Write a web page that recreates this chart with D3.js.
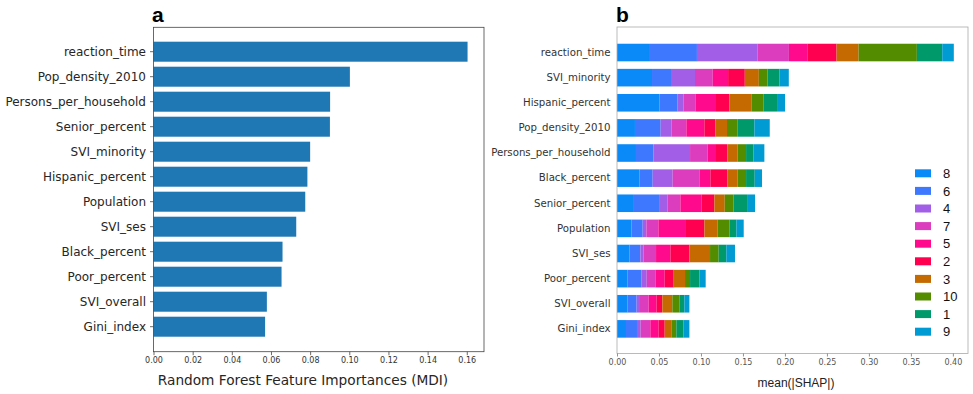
<!DOCTYPE html>
<html>
<head>
<meta charset="utf-8">
<script src="https://cdn.jsdelivr.net/npm/d3@7"></script>
<style>
  html, body { margin: 0; padding: 0; background: #fff; }
  svg { display: block; }
</style>
</head>
<body>
<svg id="chart" width="973" height="394"></svg>
<script>
// ---- Panel a: random forest impurity-based importances ----
const rfFeatures = ["reaction_time", "Pop_density_2010", "Persons_per_household", "Senior_percent",
  "SVI_minority", "Hispanic_percent", "Population", "SVI_ses", "Black_percent", "Poor_percent",
  "SVI_overall", "Gini_index"];
const rfImportance = [0.1604, 0.1003, 0.0902, 0.0901, 0.0800, 0.0786, 0.0775, 0.0729, 0.0659, 0.0654,
  0.0579, 0.0570];
const rfTicks = [0, 0.02, 0.04, 0.06, 0.08, 0.10, 0.12, 0.14, 0.16];

// ---- Panel b: mean |SHAP| per feature, split by class ----
const shapFeatures = ["reaction_time", "SVI_minority", "Hispanic_percent", "Pop_density_2010",
  "Persons_per_household", "Black_percent", "Senior_percent", "Population", "SVI_ses", "Poor_percent",
  "SVI_overall", "Gini_index"];
const classOrder = ["8", "6", "4", "7", "5", "2", "3", "10", "1", "9"];
const classColors = ["#0a8af8", "#3e78ff", "#a25ee6", "#dc3cbe", "#ff0a8c", "#ff0050", "#c46a00",
  "#548c00", "#00996a", "#009bd2"];
const shapClass8  = [0.0381, 0.0417, 0.0504, 0.0214, 0.0226, 0.0266, 0.0191, 0.0171, 0.0147, 0.0123, 0.0123, 0.0107];
const shapClass6  = [0.0571, 0.0226, 0.0218, 0.0306, 0.0207, 0.0159, 0.0310, 0.0135, 0.0131, 0.0167, 0.0111, 0.0131];
const shapClass4  = [0.0719, 0.0286, 0.0068, 0.0131, 0.0437, 0.0238, 0.0103, 0.0044, 0.0036, 0.0064, 0.0040, 0.0044];
const shapClass7  = [0.0376, 0.0211, 0.0143, 0.0175, 0.0207, 0.0318, 0.0151, 0.0143, 0.0151, 0.0103, 0.0103, 0.0115];
const shapClass5  = [0.0219, 0.0183, 0.0246, 0.0214, 0.0091, 0.0131, 0.0254, 0.0318, 0.0171, 0.0111, 0.0095, 0.0099];
const shapClass2  = [0.0349, 0.0199, 0.0159, 0.0131, 0.0147, 0.0203, 0.0151, 0.0230, 0.0226, 0.0107, 0.0068, 0.0072];
const shapClass3  = [0.0262, 0.0167, 0.0262, 0.0139, 0.0119, 0.0119, 0.0123, 0.0155, 0.0246, 0.0135, 0.0119, 0.0079];
const shapClass10 = [0.0694, 0.0103, 0.0147, 0.0123, 0.0103, 0.0103, 0.0103, 0.0143, 0.0103, 0.0060, 0.0087, 0.0060];
const shapClass1  = [0.0302, 0.0143, 0.0159, 0.0203, 0.0087, 0.0103, 0.0163, 0.0083, 0.0091, 0.0111, 0.0056, 0.0083];
const shapClass9  = [0.0138, 0.0111, 0.0095, 0.0183, 0.0131, 0.0087, 0.0095, 0.0087, 0.0103, 0.0075, 0.0060, 0.0072];
const shapTicks = [0, 0.05, 0.10, 0.15, 0.20, 0.25, 0.30, 0.35, 0.40];

const shapSeries = [shapClass8, shapClass6, shapClass4, shapClass7, shapClass5, shapClass2,
  shapClass3, shapClass10, shapClass1, shapClass9];

const svg = d3.select("#chart");
const DEJAVU = "'DejaVu Sans', sans-serif";
const ARIAL = "'Liberation Sans', Arial, sans-serif";

// =============== Panel a ===============
{
  const L = 153.5, R = 484, T = 27.3, B = 351.7;
  const x = d3.scaleLinear().domain([0, 0.1688]).range([L, R]);
  const y = d3.scaleBand().domain(rfFeatures).range([36.7, 341.7]).paddingInner(0.2).paddingOuter(0.2);

  const g = svg.append("g");
  g.selectAll("rect.bar").data(rfFeatures).join("rect")
    .attr("class", "bar")
    .attr("x", x(0))
    .attr("y", d => y(d))
    .attr("width", (d, i) => x(rfImportance[i]) - x(0))
    .attr("height", y.bandwidth())
    .attr("fill", "#1f77b4");

  // frame
  g.append("rect").attr("x", L).attr("y", T).attr("width", R - L).attr("height", B - T)
    .attr("fill", "none").attr("stroke", "#444").attr("stroke-width", 0.8);

  const xAxis = d3.axisBottom(x).tickValues(rfTicks).tickFormat(d3.format(".2f")).tickSize(3.5).tickPadding(2.5);
  const xa = g.append("g").attr("transform", `translate(0,${B})`).call(xAxis);
  xa.select(".domain").remove();
  xa.selectAll("line").attr("stroke", "#444").attr("stroke-width", 0.8);
  xa.selectAll("text").attr("font-family", DEJAVU).attr("font-size", 8).attr("fill", "#333");

  const yAxis = d3.axisLeft(y).tickSize(3.5).tickPadding(4);
  const ya = g.append("g").attr("transform", `translate(${L},0)`).call(yAxis);
  ya.select(".domain").remove();
  ya.selectAll("line").attr("stroke", "#444").attr("stroke-width", 0.8);
  ya.selectAll("text").attr("font-family", DEJAVU).attr("font-size", 12).attr("fill", "#262626");

  g.append("text").attr("x", 303).attr("y", 385).attr("text-anchor", "middle")
    .attr("font-family", DEJAVU).attr("font-size", 13.7).attr("fill", "#262626")
    .text("Random Forest Feature Importances (MDI)");

  g.append("text").attr("x", 152).attr("y", 22).attr("font-family", ARIAL)
    .attr("font-weight", "bold").attr("font-size", 21).attr("fill", "#000").text("a");
}

// =============== Panel b ===============
{
  const L = 617, R = 968, T = 27, B = 353.5;
  const x = d3.scaleLinear().domain([0, 0.418]).range([L, R]);
  const y = d3.scaleBand().domain(shapFeatures).range([36.2, 345.2]).paddingInner(0.3).paddingOuter(0.3);

  const rows = shapFeatures.map((f, i) => {
    const row = { feature: f };
    classOrder.forEach((c, k) => { row[c] = shapSeries[k][i]; });
    return row;
  });
  const stacked = d3.stack().keys(classOrder)(rows);
  const color = d3.scaleOrdinal().domain(classOrder).range(classColors);

  const g = svg.append("g");
  g.selectAll("g.layer").data(stacked).join("g")
    .attr("class", "layer")
    .attr("fill", d => color(d.key))
    .selectAll("rect").data(d => d).join("rect")
    .attr("x", d => x(d[0]))
    .attr("y", d => y(d.data.feature))
    .attr("width", d => x(d[1]) - x(d[0]))
    .attr("height", y.bandwidth());

  // frame
  g.append("rect").attr("x", L).attr("y", T).attr("width", R - L).attr("height", B - T)
    .attr("fill", "none").attr("stroke", "#aaa").attr("stroke-width", 0.8);

  const xAxis = d3.axisBottom(x).tickValues(shapTicks).tickFormat(d3.format(".2f")).tickSize(3).tickPadding(3);
  const xa = g.append("g").attr("transform", `translate(0,${B})`).call(xAxis);
  xa.select(".domain").remove();
  xa.selectAll("line").attr("stroke", "#777").attr("stroke-width", 0.8);
  xa.selectAll("text").attr("font-family", DEJAVU).attr("font-size", 8).attr("fill", "#555");

  const yAxis = d3.axisLeft(y).tickSize(0).tickPadding(6.5);
  const ya = g.append("g").attr("transform", `translate(${L},0)`).call(yAxis);
  ya.select(".domain").remove();
  ya.selectAll("text").attr("font-family", DEJAVU).attr("font-size", 10.2).attr("fill", "#333");

  g.append("text").attr("x", 796).attr("y", 387).attr("text-anchor", "middle")
    .attr("font-family", ARIAL).attr("font-size", 12).attr("fill", "#222")
    .text("mean(|SHAP|)");

  g.append("text").attr("x", 616).attr("y", 22).attr("font-family", ARIAL)
    .attr("font-weight", "bold").attr("font-size", 21).attr("fill", "#000").text("b");

  // legend
  const legendY = d3.scalePoint().domain(classOrder).range([173.3, 331.7]);
  const lg = g.append("g");
  const item = lg.selectAll("g").data(classOrder).join("g")
    .attr("transform", d => `translate(0,${legendY(d)})`);
  item.append("rect").attr("x", 915).attr("y", -4).attr("width", 16).attr("height", 8)
    .attr("fill", d => color(d));
  item.append("text").attr("x", 943).attr("y", 0).attr("dy", "0.36em")
    .attr("font-family", ARIAL).attr("font-size", 13).attr("fill", "#111").text(d => d);
}
</script>
</body>
</html>
